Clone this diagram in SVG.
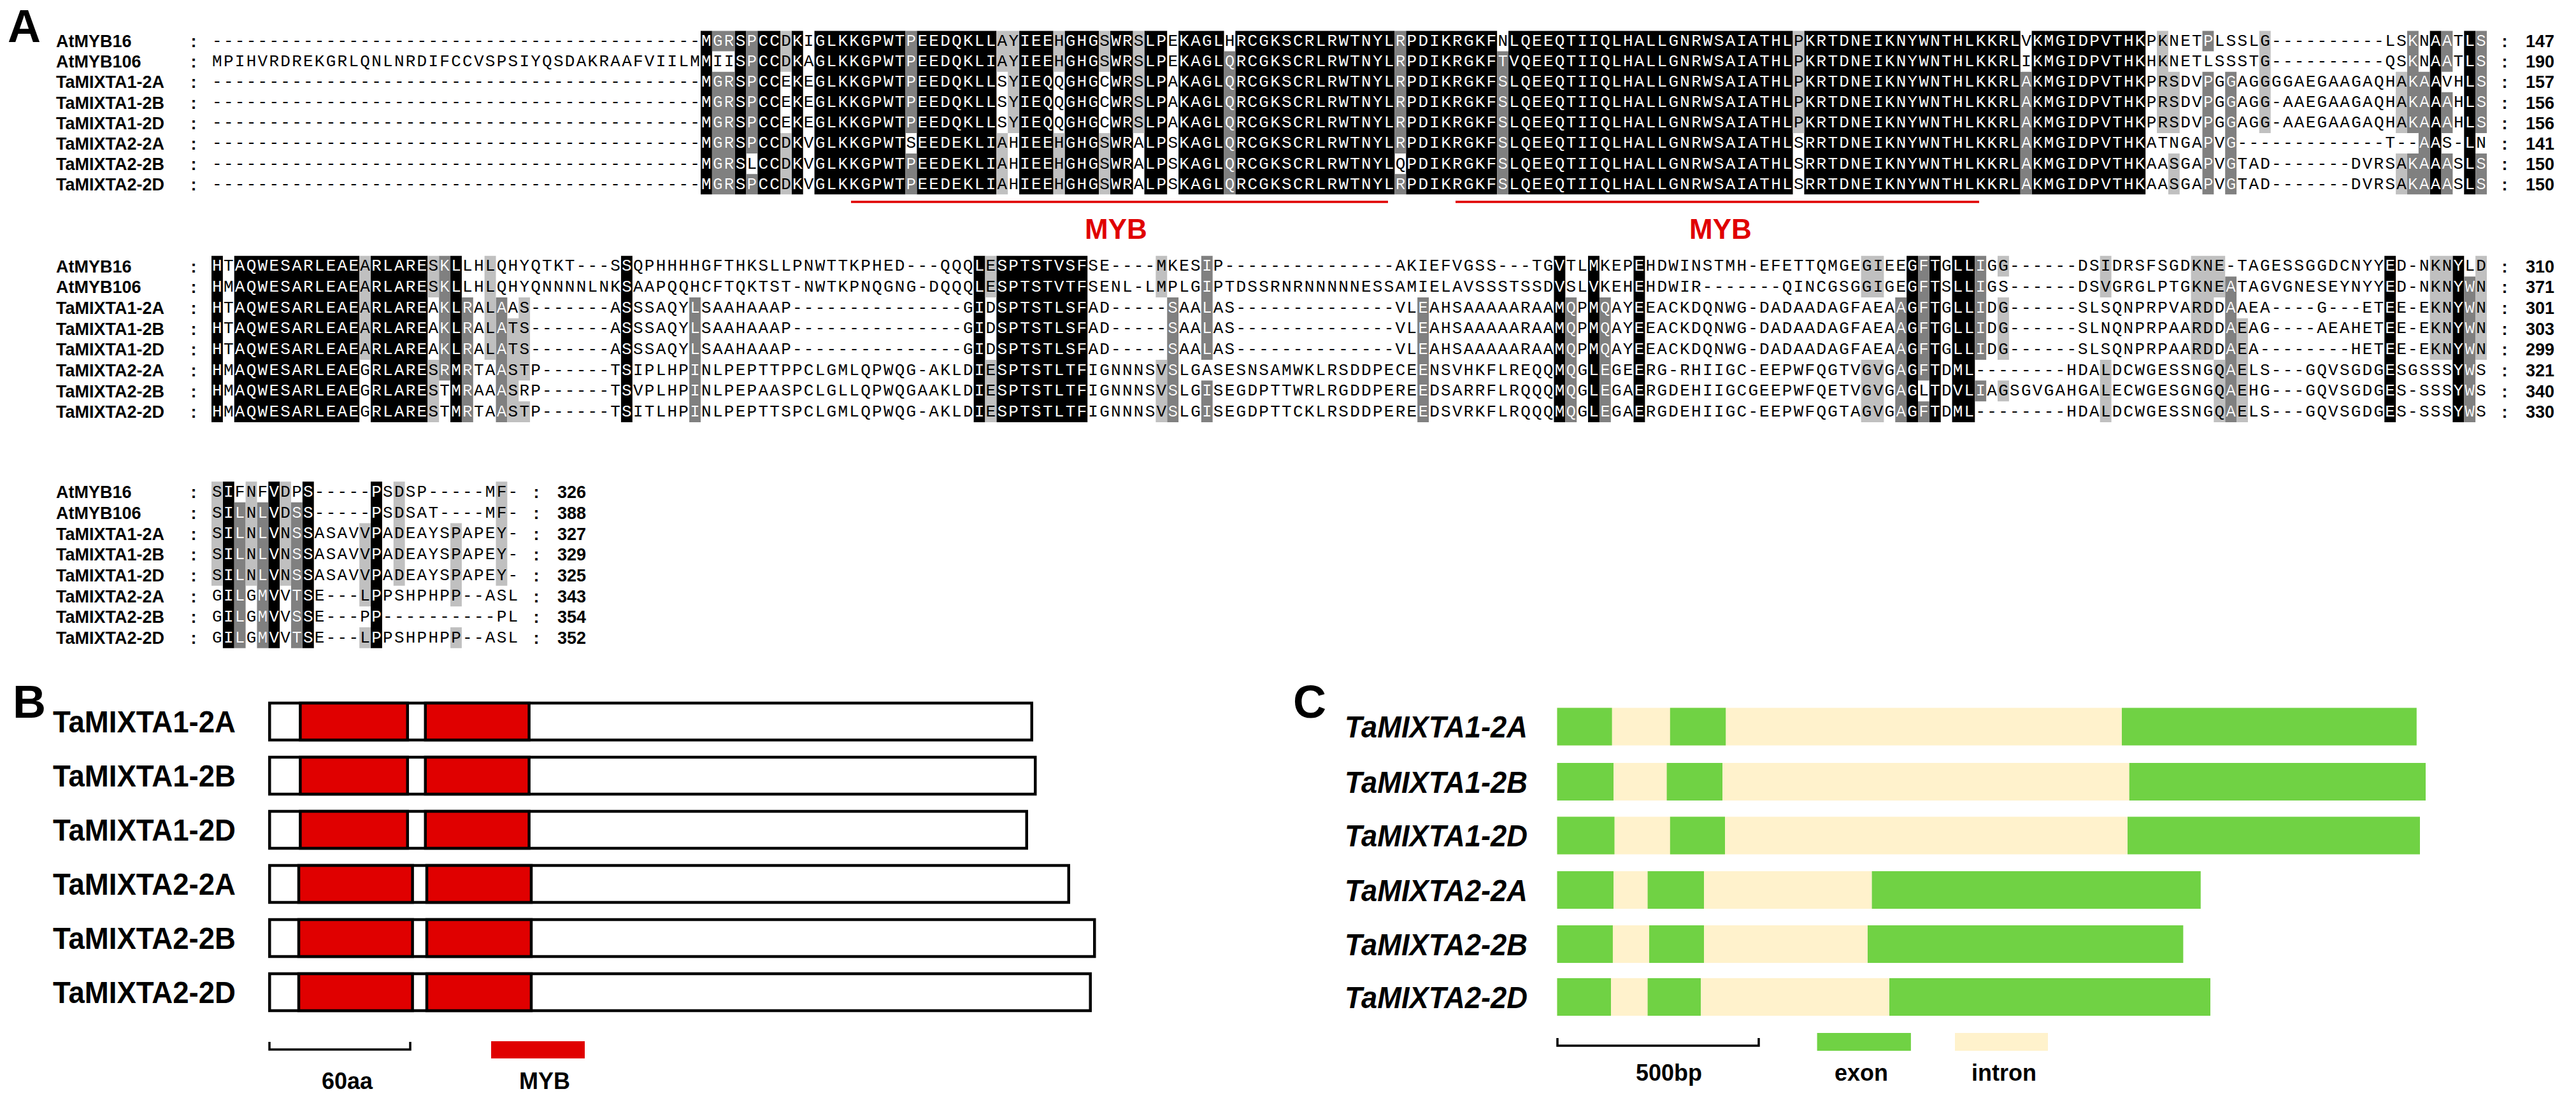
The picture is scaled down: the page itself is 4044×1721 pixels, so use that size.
<svg xmlns="http://www.w3.org/2000/svg" width="4044" height="1721" viewBox="0 0 4044 1721">
<style>
.q{font-family:"Liberation Mono","DejaVu Sans Mono",monospace;font-size:26px;letter-spacing:2.26px}
.lb{font-family:"Liberation Sans",Arial,sans-serif;font-weight:bold;font-size:27px}
.cm{font-family:"Liberation Sans",Arial,sans-serif;font-weight:bold;font-size:27px;text-anchor:middle}
.B{fill:#000}.D{fill:#808080}.L{fill:#c0c0c0}
.pl{font-family:"Liberation Sans",Arial,sans-serif;font-weight:bold;font-size:72px}
.bl{font-family:"Liberation Sans",Arial,sans-serif;font-weight:bold;font-size:48px;text-anchor:end}
.cl{font-family:"Liberation Sans",Arial,sans-serif;font-weight:bold;font-style:italic;font-size:48px;text-anchor:end}
.lg{font-family:"Liberation Sans",Arial,sans-serif;font-weight:bold;font-size:36px;text-anchor:middle}
.my{font-family:"Liberation Sans",Arial,sans-serif;font-weight:bold;font-size:44px;fill:#e00000;text-anchor:middle}
.box{fill:#fff;stroke:#000;stroke-width:4.5}
.red{fill:#e00000;stroke:#000;stroke-width:4.5}
.ex{fill:#70d244}.in{fill:#fff2cc}
.rl{stroke:#e00000;stroke-width:3.5;fill:none}
.sb{stroke:#000;stroke-width:3.5;fill:none}
</style>
<rect width="4044" height="1721" fill="#fff"/>

<g id="panelA">
<text class="pl" x="12" y="66">A</text>

<g id="block1">
<path id="b1B" class="B" transform="matrix(17.86 0 0 32.1 332 48.45)" d="M43 0h1v8h-1zM46 0h1v8h-1zM48 0h2v8h-2zM51 0h1v8h-1zM53 0h8v8h-8zM62 0h7v8h-7zM71 0h3v8h-3zM75 0h3v8h-3zM79 0h2v8h-2zM82 0h2v8h-2zM85 0h4v8h-4zM90 0h14v8h-14zM105 0h8v8h-8zM114 0h25v8h-25zM140 0h19v8h-19zM160 0h10v8h-10zM195 0h1v8h-1zM198 0h1v8h-1z"/>
<path id="b1D" class="D" transform="matrix(17.86 0 0 32.1 332 48.45)" d="M44 0h2v1h-2zM44 2h2v6h-2zM47 0h1v6h-1zM47 7h1v1h-1zM61 0h1v5h-1zM61 6h1v2h-1zM89 1h1v7h-1zM104 0h1v6h-1zM104 7h1v1h-1zM113 1h1v7h-1zM159 2h1v6h-1zM175 0h1v1h-1zM175 2h1v6h-1zM177 2h1v6h-1zM193 0h1v5h-1zM193 6h1v2h-1zM194 2h1v6h-1zM196 0h1v2h-1zM196 3h1v2h-1zM196 6h1v2h-1zM199 0h1v5h-1zM199 6h1v2h-1z"/>
<path class="L" transform="matrix(17.86 0 0 32.1 332 48.45)" d="M50 0h1v2h-1zM50 5h1v3h-1zM69 0h1v2h-1zM69 5h1v3h-1zM70 0h1v5h-1zM74 0h1v2h-1zM74 5h1v3h-1zM78 0h1v2h-1zM78 5h1v3h-1zM81 0h1v5h-1zM139 0h1v5h-1zM171 0h1v5h-1zM172 2h1v3h-1zM172 6h1v2h-1zM180 0h1v5h-1zM192 2h1v3h-1zM192 6h1v2h-1z"/>
<clipPath id="w1"><use href="#b1B"/><use href="#b1D"/></clipPath>
<text id="s10" class="q" y="71.9"><tspan x="333.1">-------------------------------------------</tspan><tspan x="1101.1">MGRSPCCDKIGLKKGPWTPEEDQKLLAYIEEHGHGSWRSLPEKAGLHRCGKSCRLRWTNYLRPDIKRGKFNLQEEQTIIQLHALLGNRWSAIATHLPKRTDNEIKNYWNTHLKKRLVKMGIDPVTHKPKNETPLSSLG----------</tspan><tspan x="3744.4">LSKNAATLS</tspan></text>
<text id="s11" class="q" y="104"><tspan x="333.1">MPIHVRDREKGRLQNLNRDIFCCVSPSIYQSDAKRAAFVIILM</tspan><tspan x="1101.1">MIISPCCDKAGLKKGPWTPEEDQKLIAYIEEHGHGSWRSLPEKAGLQRCGKSCRLRWTNYLRPDIKRGKFTVQEEQTIIQLHALLGNRWSAIATHLPKRTDNEIKNYWNTHLKKRLIKMGIDPVTHKHKNETLSSSTG----------</tspan><tspan x="3744.4">QSKNAATLS</tspan></text>
<text id="s12" class="q" y="136.1"><tspan x="333.1">-------------------------------------------</tspan><tspan x="1101.1">MGRSPCCEKEGLKKGPWTPEEDQKLLSYIEQQGHGCWRSLPAKAGLQRCGKSCRLRWTNYLRPDIKRGKFSLQEEQTIIQLHALLGNRWSAIATHLPKRTDNEIKNYWNTHLKKRLAKMGIDPVTHKPRSDVPGGAGGGGAEGAAGAQHAKAAVHLS</tspan></text>
<text id="s13" class="q" y="168.2"><tspan x="333.1">-------------------------------------------</tspan><tspan x="1101.1">MGRSPCCEKEGLKKGPWTPEEDQKLLSYIEQQGHGCWRSLPAKAGLQRCGKSCRLRWTNYLRPDIKRGKFSLQEEQTIIQLHALLGNRWSAIATHLPKRTDNEIKNYWNTHLKKRLAKMGIDPVTHKPRSDVPGGAGG-AAEGAAGAQHAKAAAHLS</tspan></text>
<text id="s14" class="q" y="200.3"><tspan x="333.1">-------------------------------------------</tspan><tspan x="1101.1">MGRSPCCEKEGLKKGPWTPEEDQKLLSYIEQQGHGCWRSLPAKAGLQRCGKSCRLRWTNYLRPDIKRGKFSLQEEQTIIQLHALLGNRWSAIATHLPKRTDNEIKNYWNTHLKKRLAKMGIDPVTHKPRSDVPGGAGG-AAEGAAGAQHAKAAAHLS</tspan></text>
<text id="s15" class="q" y="232.4"><tspan x="333.1">-------------------------------------------</tspan><tspan x="1101.1">MGRSPCCDKVGLKKGPWTSEEDEKLIAHIEEHGHGSWRALPSKAGLQRCGKSCRLRWTNYLRPDIKRGKFSLQEEQTIIQLHALLGNRWSAIATHLSRRTDNEIKNYWNTHLKKRLAKMGIDPVTHKATNGAPVG-------------</tspan><tspan x="3744.4">T--AAS-LN</tspan></text>
<text id="s16" class="q" y="264.5"><tspan x="333.1">-------------------------------------------</tspan><tspan x="1101.1">MGRSLCCDKVGLKKGPWTPEEDEKLIAHIEEHGHGSWRALPSKAGLQRCGKSCRLRWTNYLQPDIKRGKFSLQEEQTIIQLHALLGNRWSAIATHLSRRTDNEIKNYWNTHLKKRLAKMGIDPVTHKAASGAPVGTAD-------</tspan><tspan x="3690.8">DVRSAKAAASLS</tspan></text>
<text id="s17" class="q" y="296.6"><tspan x="333.1">-------------------------------------------</tspan><tspan x="1101.1">MGRSPCCDKVGLKKGPWTPEEDEKLIAHIEEHGHGSWRALPSKAGLQRCGKSCRLRWTNYLRPDIKRGKFSLQEEQTIIQLHALLGNRWSAIATHLSRRTDNEIKNYWNTHLKKRLAKMGIDPVTHKAASGAPVGTAD-------</tspan><tspan x="3690.8">DVRSAKAAASLS</tspan></text>
<g fill="#fff" clip-path="url(#w1)"><use href="#s10"/><use href="#s11"/><use href="#s12"/><use href="#s13"/><use href="#s14"/><use href="#s15"/><use href="#s16"/><use href="#s17"/></g>
<text class="lb"><tspan x="88" y="74.2">AtMYB16</tspan><tspan x="88" y="106.3">AtMYB106</tspan><tspan x="88" y="138.4">TaMIXTA1-2A</tspan><tspan x="88" y="170.5">TaMIXTA1-2B</tspan><tspan x="88" y="202.6">TaMIXTA1-2D</tspan><tspan x="88" y="234.7">TaMIXTA2-2A</tspan><tspan x="88" y="266.8">TaMIXTA2-2B</tspan><tspan x="88" y="298.9">TaMIXTA2-2D</tspan></text>
<text class="cm"><tspan x="304" y="74.2">:</tspan><tspan x="304" y="106.3">:</tspan><tspan x="304" y="138.4">:</tspan><tspan x="304" y="170.5">:</tspan><tspan x="304" y="202.6">:</tspan><tspan x="304" y="234.7">:</tspan><tspan x="304" y="266.8">:</tspan><tspan x="304" y="298.9">:</tspan></text>
<text class="cm"><tspan x="3932" y="74.2">:</tspan><tspan x="3932" y="106.3">:</tspan><tspan x="3932" y="138.4">:</tspan><tspan x="3932" y="170.5">:</tspan><tspan x="3932" y="202.6">:</tspan><tspan x="3932" y="234.7">:</tspan><tspan x="3932" y="266.8">:</tspan><tspan x="3932" y="298.9">:</tspan></text>
<text class="lb"><tspan x="3965" y="74.2">147</tspan><tspan x="3965" y="106.3">190</tspan><tspan x="3965" y="138.4">157</tspan><tspan x="3965" y="170.5">156</tspan><tspan x="3965" y="202.6">156</tspan><tspan x="3965" y="234.7">141</tspan><tspan x="3965" y="266.8">150</tspan><tspan x="3965" y="298.9">150</tspan></text>
<path class="rl" d="M1336 317H2179M2285 317H3107"/>
<text class="my" x="1752" y="375">MYB</text>
<text class="my" x="2701" y="375">MYB</text>
</g>

<g id="block2">
<path id="b2B" class="B" transform="matrix(17.86 0 0 32.65 332 401.7)" d="M0 0h1v8h-1zM2 0h11v8h-11zM14 0h5v8h-5zM21 0h1v8h-1zM36 0h1v8h-1zM67 0h1v8h-1zM69 0h8v8h-8zM118 0h1v8h-1zM121 0h1v8h-1zM125 0h1v8h-1zM149 0h1v8h-1zM151 0h1v8h-1zM153 0h2v8h-2zM191 0h1v8h-1zM197 0h1v8h-1z"/>
<path id="b2D" class="D" transform="matrix(17.86 0 0 32.65 332 401.7)" d="M20 0h1v6h-1zM22 2h1v6h-1zM25 2h1v6h-1zM42 2h1v6h-1zM84 2h1v6h-1zM87 0h1v5h-1zM87 6h1v2h-1zM106 2h1v6h-1zM119 2h1v6h-1zM122 2h1v6h-1zM148 2h1v6h-1zM150 0h1v6h-1zM150 7h1v1h-1zM155 0h1v5h-1zM155 6h1v1h-1zM177 1h1v7h-1zM198 1h1v7h-1z"/>
<path class="L" transform="matrix(17.86 0 0 32.65 332 401.7)" d="M13 0h1v5h-1zM19 0h1v2h-1zM19 5h1v3h-1zM24 0h1v5h-1zM26 3h1v5h-1zM27 2h1v4h-1zM27 7h1v1h-1zM68 0h1v2h-1zM68 5h1v3h-1zM83 0h1v2h-1zM83 5h1v3h-1zM145 0h2v2h-2zM145 5h2v3h-2zM157 0h1v1h-1zM157 2h1v3h-1zM157 6h1v1h-1zM166 0h1v2h-1zM166 5h1v3h-1zM174 0h2v5h-2zM176 0h1v2h-1zM176 5h1v3h-1zM178 3h1v5h-1zM195 0h2v5h-2zM199 0h1v5h-1z"/>
<clipPath id="w2"><use href="#b2B"/><use href="#b2D"/></clipPath>
<text id="s20" class="q" y="425.4"><tspan x="333.1">HTAQWESARLEAEARLARESKLLHLQHYQTKT---</tspan><tspan x="958.2">SSQPHHHHGFTHKSLLPNWTTKPHED---</tspan><tspan x="1476.1">QQQLESPTSTVSFSE----</tspan><tspan x="1815.5">MKESIP---------------</tspan><tspan x="2190.5">AKIEFVGSS---</tspan><tspan x="2404.9">TGVTLMKEPEHDWINSTMH-EFETTQMGEGIEEGFTGLLIGG------</tspan><tspan x="3262.1">DSIDRSFSGDKNE-TAGESSGGDCNYYED-NKNYLD</tspan></text>
<text id="s21" class="q" y="458.1"><tspan x="333.1">HMAQWESARLEAEARLARESKLLHLQHYQNNNNLNKSAAPQQHCFTQKTST-NWTKPNQGNG-</tspan><tspan x="1458.3">DQQQLESPTSTVTFSENL-</tspan><tspan x="1797.6">LMPLGIPTDSSRNRNNNNNESSAMIELAVSSSTSSDVSLVKEHEHDWIR-------</tspan><tspan x="2797.8">QINCGSGGIGEGFTSLLIGS------</tspan><tspan x="3262.1">DSVGRGLPTGKNEATAGVGNESEYNYYED-NKNYWN</tspan></text>
<text id="s22" class="q" y="490.7"><tspan x="333.1">HTAQWESARLEAEARLAREAKLRALAAS-------</tspan><tspan x="958.2">ASSSAQYLSAAHAAAP---------------</tspan><tspan x="1511.9">GIDSPTSTLSFAD-----</tspan><tspan x="1833.3">SAALAS--------------</tspan><tspan x="2190.5">VLEAHSAAAAARAAMQPMQAYEEACKDQNWG-DADAADAGFAEAAGFTGLLIDG------</tspan><tspan x="3262.1">SLSQNPRPVARDDAAEA----</tspan><tspan x="3637.2">G---</tspan><tspan x="3708.6">ETEE-EKNYWN</tspan></text>
<text id="s23" class="q" y="523.4"><tspan x="333.1">HTAQWESARLEAEARLAREAKLRALATS-------</tspan><tspan x="958.2">ASSSAQYLSAAHAAAP---------------</tspan><tspan x="1511.9">GIDSPTSTLSFAD-----</tspan><tspan x="1833.3">SAALAS--------------</tspan><tspan x="2190.5">VLEAHSAAAAARAAMQPMQAYEEACKDQNWG-DADAADAGFAEAAGFTGLLIDG------</tspan><tspan x="3262.1">SLNQNPRPAARDDAEAG----</tspan><tspan x="3637.2">AEAHETEE-EKNYWN</tspan></text>
<text id="s24" class="q" y="556"><tspan x="333.1">HTAQWESARLEAEARLAREAKLRALATS-------</tspan><tspan x="958.2">ASSSAQYLSAAHAAAP---------------</tspan><tspan x="1511.9">GIDSPTSTLSFAD-----</tspan><tspan x="1833.3">SAALAS--------------</tspan><tspan x="2190.5">VLEAHSAAAAARAAMQPMQAYEEACKDQNWG-DADAADAGFAEAAGFTGLLIDG------</tspan><tspan x="3262.1">SLSQNPRPAARDDAEA--------</tspan><tspan x="3690.8">HETEE-EKNYWN</tspan></text>
<text id="s25" class="q" y="588.7"><tspan x="333.1">HMAQWESARLEAEGRLARESRMRTAASTP------</tspan><tspan x="958.2">TSIPLHPINLPEPTTPPCLGMLQPWQG-</tspan><tspan x="1458.3">AKLDIESPTSTLTFIGNNNSVSLGASESNSAMWKLRSDDPECEENSVHKFLREQQMQGLEGEERG-RHIIGC-</tspan><tspan x="2762.1">EEPWFQGTVGVGAGFTDML--------</tspan><tspan x="3244.3">HDALDCWGESSNGQAELS---</tspan><tspan x="3619.3">GQVSGDGESGSSSYWS</tspan></text>
<text id="s26" class="q" y="621.3"><tspan x="333.1">HMAQWESARLEAEGRLARESTMRAAASRP------</tspan><tspan x="958.2">TSVPLHPINLPEPAASPCLGLLQPWQGA</tspan><tspan x="1458.3">AKLDIESPTSTLTFIGNNNSVSLGISEGDPTTWRLRGDDPEREEDSARRFLRQQQMQGLEGAERGDEHIIGCG</tspan><tspan x="2762.1">EEPWFQETVGVGAGLTDVLIAGSGVGA</tspan><tspan x="3244.3">HGALECWGESGNGQAEHG---</tspan><tspan x="3619.3">GQVSGDGES-SSSYWS</tspan></text>
<text id="s27" class="q" y="654"><tspan x="333.1">HMAQWESARLEAEGRLARESTMRTAASTP------</tspan><tspan x="958.2">TSITLHPINLPEPTTSPCLGMLQPWQG-</tspan><tspan x="1458.3">AKLDIESPTSTLTFIGNNNSVSLGISEGDPTTCKLRSDDPEREEDSVRKFLRQQQMQGLEGAERGDEHIIGC-</tspan><tspan x="2762.1">EEPWFQGTAGVGAGFTDML--------</tspan><tspan x="3244.3">HDALDCWGESSNGQAELS---</tspan><tspan x="3619.3">GQVSGDGES-SSSYWS</tspan></text>
<g fill="#fff" clip-path="url(#w2)"><use href="#s20"/><use href="#s21"/><use href="#s22"/><use href="#s23"/><use href="#s24"/><use href="#s25"/><use href="#s26"/><use href="#s27"/></g>
<text class="lb"><tspan x="88" y="427.7">AtMYB16</tspan><tspan x="88" y="460.4">AtMYB106</tspan><tspan x="88" y="493">TaMIXTA1-2A</tspan><tspan x="88" y="525.7">TaMIXTA1-2B</tspan><tspan x="88" y="558.3">TaMIXTA1-2D</tspan><tspan x="88" y="591">TaMIXTA2-2A</tspan><tspan x="88" y="623.6">TaMIXTA2-2B</tspan><tspan x="88" y="656.3">TaMIXTA2-2D</tspan></text>
<text class="cm"><tspan x="304" y="427.7">:</tspan><tspan x="304" y="460.4">:</tspan><tspan x="304" y="493">:</tspan><tspan x="304" y="525.7">:</tspan><tspan x="304" y="558.3">:</tspan><tspan x="304" y="591">:</tspan><tspan x="304" y="623.6">:</tspan><tspan x="304" y="656.3">:</tspan></text>
<text class="cm"><tspan x="3932" y="427.7">:</tspan><tspan x="3932" y="460.4">:</tspan><tspan x="3932" y="493">:</tspan><tspan x="3932" y="525.7">:</tspan><tspan x="3932" y="558.3">:</tspan><tspan x="3932" y="591">:</tspan><tspan x="3932" y="623.6">:</tspan><tspan x="3932" y="656.3">:</tspan></text>
<text class="lb"><tspan x="3965" y="427.7">310</tspan><tspan x="3965" y="460.4">371</tspan><tspan x="3965" y="493">301</tspan><tspan x="3965" y="525.7">303</tspan><tspan x="3965" y="558.3">299</tspan><tspan x="3965" y="591">321</tspan><tspan x="3965" y="623.6">340</tspan><tspan x="3965" y="656.3">330</tspan></text>
</g>

<g id="block3">
<path id="b3B" class="B" transform="matrix(17.86 0 0 32.7 332 756.15)" d="M1 0h1v8h-1zM5 0h1v8h-1zM8 0h1v8h-1zM14 0h1v8h-1z"/>
<path id="b3D" class="D" transform="matrix(17.86 0 0 32.7 332 756.15)" d="M2 1h1v7h-1zM4 1h1v7h-1zM7 1h1v7h-1z"/>
<path class="L" transform="matrix(17.86 0 0 32.7 332 756.15)" d="M0 0h1v5h-1zM3 0h1v5h-1zM6 0h1v5h-1zM13 2h1v4h-1zM13 7h1v1h-1zM16 0h1v5h-1zM21 2h1v4h-1zM21 7h1v1h-1zM25 0h1v5h-1z"/>
<clipPath id="w3"><use href="#b3B"/><use href="#b3D"/></clipPath>
<text id="s30" class="q" x="333.1" y="779.9">SIFNFVDPS-----PSDSP-----MF-</text>
<text id="s31" class="q" x="333.1" y="812.6">SILNLVDSS-----PSDSAT----MF-</text>
<text id="s32" class="q" x="333.1" y="845.3">SILNLVNSSASAVVPADEAYSPAPEY-</text>
<text id="s33" class="q" x="333.1" y="878">SILNLVNSSASAVVPADEAYSPAPEY-</text>
<text id="s34" class="q" x="333.1" y="910.7">SILNLVNSSASAVVPADEAYSPAPEY-</text>
<text id="s35" class="q" x="333.1" y="943.4">GILGMVVTSE---LPPSHPHPP--ASL</text>
<text id="s36" class="q" x="333.1" y="976.1">GILGMVVSSE---PP----------PL</text>
<text id="s37" class="q" x="333.1" y="1008.8">GILGMVVTSE---LPPSHPHPP--ASL</text>
<g fill="#fff" clip-path="url(#w3)"><use href="#s30"/><use href="#s31"/><use href="#s32"/><use href="#s33"/><use href="#s34"/><use href="#s35"/><use href="#s36"/><use href="#s37"/></g>
<text class="lb"><tspan x="88" y="782.2">AtMYB16</tspan><tspan x="88" y="814.9">AtMYB106</tspan><tspan x="88" y="847.6">TaMIXTA1-2A</tspan><tspan x="88" y="880.3">TaMIXTA1-2B</tspan><tspan x="88" y="913">TaMIXTA1-2D</tspan><tspan x="88" y="945.7">TaMIXTA2-2A</tspan><tspan x="88" y="978.4">TaMIXTA2-2B</tspan><tspan x="88" y="1011.1">TaMIXTA2-2D</tspan></text>
<text class="cm"><tspan x="304" y="782.2">:</tspan><tspan x="304" y="814.9">:</tspan><tspan x="304" y="847.6">:</tspan><tspan x="304" y="880.3">:</tspan><tspan x="304" y="913">:</tspan><tspan x="304" y="945.7">:</tspan><tspan x="304" y="978.4">:</tspan><tspan x="304" y="1011.1">:</tspan></text>
<text class="cm"><tspan x="842" y="782.2">:</tspan><tspan x="842" y="814.9">:</tspan><tspan x="842" y="847.6">:</tspan><tspan x="842" y="880.3">:</tspan><tspan x="842" y="913">:</tspan><tspan x="842" y="945.7">:</tspan><tspan x="842" y="978.4">:</tspan><tspan x="842" y="1011.1">:</tspan></text>
<text class="lb"><tspan x="875" y="782.2">326</tspan><tspan x="875" y="814.9">388</tspan><tspan x="875" y="847.6">327</tspan><tspan x="875" y="880.3">329</tspan><tspan x="875" y="913">325</tspan><tspan x="875" y="945.7">343</tspan><tspan x="875" y="978.4">354</tspan><tspan x="875" y="1011.1">352</tspan></text>
</g>
</g>

<g id="panelB">
<text class="pl" x="20" y="1127">B</text>
<g id="b-row1"><text class="bl" x="370" y="1150" textLength="287" lengthAdjust="spacingAndGlyphs">TaMIXTA1-2A</text><rect class="box" x="423.25" y="1104" width="1196.5" height="58"/><rect class="red" x="471.4" y="1104" width="168.4" height="58"/><rect class="red" x="667.8" y="1104" width="162.8" height="58"/></g>
<g id="b-row2"><text class="bl" x="370" y="1235" textLength="287" lengthAdjust="spacingAndGlyphs">TaMIXTA1-2B</text><rect class="box" x="423.25" y="1189" width="1202" height="58"/><rect class="red" x="471.4" y="1189" width="168.4" height="58"/><rect class="red" x="667.8" y="1189" width="162.8" height="58"/></g>
<g id="b-row3"><text class="bl" x="370" y="1320" textLength="287" lengthAdjust="spacingAndGlyphs">TaMIXTA1-2D</text><rect class="box" x="423.25" y="1274" width="1188.5" height="58"/><rect class="red" x="471.4" y="1274" width="168.4" height="58"/><rect class="red" x="667.8" y="1274" width="162.8" height="58"/></g>
<g id="b-row4"><text class="bl" x="370" y="1405" textLength="287" lengthAdjust="spacingAndGlyphs">TaMIXTA2-2A</text><rect class="box" x="423.25" y="1359" width="1254.5" height="58"/><rect class="red" x="469" y="1359" width="178.6" height="58"/><rect class="red" x="670" y="1359" width="164" height="58"/></g>
<g id="b-row5"><text class="bl" x="370" y="1490" textLength="287" lengthAdjust="spacingAndGlyphs">TaMIXTA2-2B</text><rect class="box" x="423.25" y="1444" width="1295" height="58"/><rect class="red" x="469" y="1444" width="178.6" height="58"/><rect class="red" x="670" y="1444" width="164" height="58"/></g>
<g id="b-row6"><text class="bl" x="370" y="1575" textLength="287" lengthAdjust="spacingAndGlyphs">TaMIXTA2-2D</text><rect class="box" x="423.25" y="1529" width="1288.5" height="58"/><rect class="red" x="469" y="1529" width="178.6" height="58"/><rect class="red" x="670" y="1529" width="164" height="58"/></g>
<g id="b-legend">
<path class="sb" d="M423 1636V1648H644V1636"/>
<text class="lg" x="545" y="1710">60aa</text>
<rect x="771" y="1635" width="147" height="27" fill="#e00000"/>
<text class="lg" x="855" y="1710">MYB</text>
</g>
</g>

<g id="panelC">
<text class="pl" x="2030" y="1127">C</text>
<g id="c-row1"><text class="cl" x="2398" y="1158" textLength="287" lengthAdjust="spacingAndGlyphs">TaMIXTA1-2A</text><rect class="in" x="2444.5" y="1111.5" width="886.5" height="59"/><rect class="ex" x="2444.5" y="1111.5" width="86.1" height="59"/><rect class="ex" x="2621.8" y="1111.5" width="87.4" height="59"/><rect class="ex" x="3331" y="1111.5" width="462.8" height="59"/></g>
<g id="c-row2"><text class="cl" x="2398" y="1244.5" textLength="287" lengthAdjust="spacingAndGlyphs">TaMIXTA1-2B</text><rect class="in" x="2444.5" y="1198" width="898.2" height="59"/><rect class="ex" x="2444.5" y="1198" width="88.5" height="59"/><rect class="ex" x="2616.6" y="1198" width="87.4" height="59"/><rect class="ex" x="3342.7" y="1198" width="465.3" height="59"/></g>
<g id="c-row3"><text class="cl" x="2398" y="1329" textLength="287" lengthAdjust="spacingAndGlyphs">TaMIXTA1-2D</text><rect class="in" x="2444.5" y="1282.5" width="895.5" height="59"/><rect class="ex" x="2444.5" y="1282.5" width="90" height="59"/><rect class="ex" x="2621.8" y="1282.5" width="86.2" height="59"/><rect class="ex" x="3340" y="1282.5" width="459" height="59"/></g>
<g id="c-row4"><text class="cl" x="2398" y="1414.5" textLength="287" lengthAdjust="spacingAndGlyphs">TaMIXTA2-2A</text><rect class="in" x="2444.5" y="1368" width="494.1" height="59"/><rect class="ex" x="2444.5" y="1368" width="88.5" height="59"/><rect class="ex" x="2586.6" y="1368" width="88.4" height="59"/><rect class="ex" x="2938.6" y="1368" width="516.2" height="59"/></g>
<g id="c-row5"><text class="cl" x="2398" y="1499.5" textLength="287" lengthAdjust="spacingAndGlyphs">TaMIXTA2-2B</text><rect class="in" x="2444.5" y="1453" width="487.5" height="59"/><rect class="ex" x="2444.5" y="1453" width="87.4" height="59"/><rect class="ex" x="2589" y="1453" width="86" height="59"/><rect class="ex" x="2932" y="1453" width="495.4" height="59"/></g>
<g id="c-row6"><text class="cl" x="2398" y="1582.5" textLength="287" lengthAdjust="spacingAndGlyphs">TaMIXTA2-2D</text><rect class="in" x="2444.5" y="1536" width="521.5" height="59"/><rect class="ex" x="2444.5" y="1536" width="84.5" height="59"/><rect class="ex" x="2586.6" y="1536" width="83.4" height="59"/><rect class="ex" x="2966" y="1536" width="504" height="59"/></g>
<g id="c-legend">
<path class="sb" d="M2445 1630V1642H2761V1630"/>
<text class="lg" x="2620" y="1697">500bp</text>
<rect class="ex" x="2852.6" y="1622" width="147.3" height="28"/>
<text class="lg" x="2922" y="1697">exon</text>
<rect class="in" x="3069" y="1622" width="146" height="28"/>
<text class="lg" x="3146" y="1697">intron</text>
</g>
</g>
</svg>
